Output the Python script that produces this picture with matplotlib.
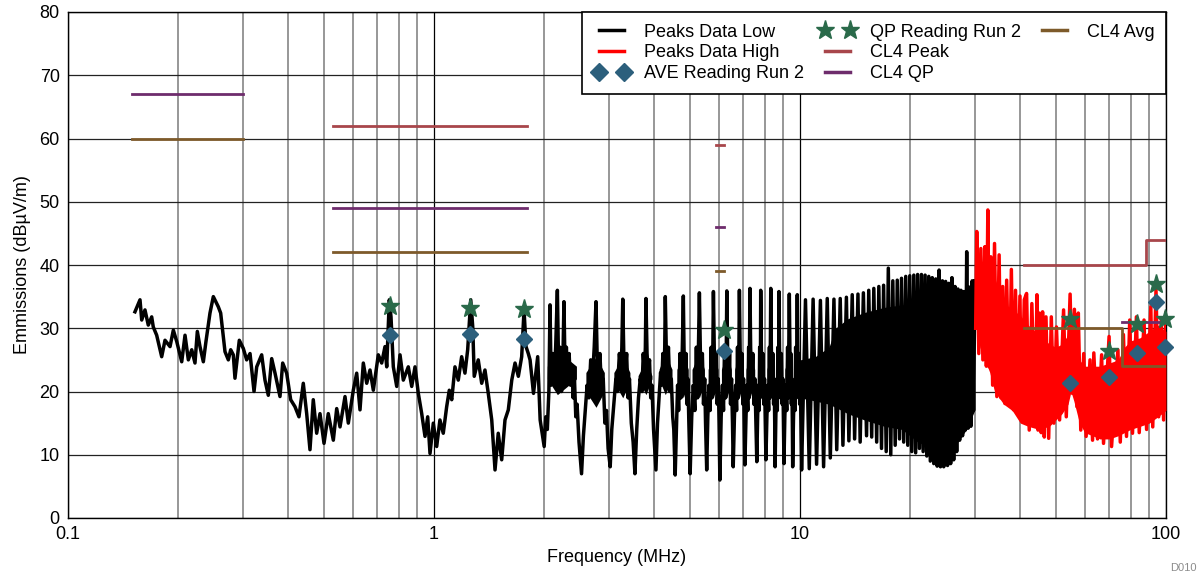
import numpy as np
import matplotlib
matplotlib.use("Agg")
import matplotlib.pyplot as plt
from matplotlib.lines import Line2D

plt.rcParams['font.family'] = ['Liberation Sans', 'DejaVu Sans']

# ---- Peaks data low (0.15 - 2 MHz) ----
low_f = [0.1524, 0.1573, 0.1590, 0.1623, 0.1657, 0.1693, 0.1710, 0.1747, 0.1803, 0.1841,
         0.1900, 0.1940, 0.1982, 0.2045, 0.2088, 0.2132, 0.2178, 0.2223, 0.2256, 0.2294,
         0.2343, 0.2382, 0.2443, 0.2495, 0.2574, 0.2613, 0.2685, 0.2742, 0.2783, 0.2829,
         0.2859, 0.2938, 0.3013, 0.3077, 0.3143, 0.3223, 0.3278, 0.3382, 0.3453, 0.3526,
         0.3602, 0.3678, 0.3795, 0.3860, 0.3958, 0.4059, 0.4170, 0.4276, 0.4394, 0.4489,
         0.4583, 0.4679, 0.4780, 0.4881, 0.5006, 0.5142, 0.5308, 0.5422, 0.5536,
         0.5713, 0.5833, 0.6019, 0.6149, 0.6278, 0.6410, 0.6549, 0.6686, 0.6827, 0.7044,
         0.7196, 0.7347, 0.7427, 0.7549, 0.7630, 0.7742, 0.7910, 0.8075, 0.8244, 0.8507,
         0.8692, 0.8874, 0.9061, 0.9256, 0.9450, 0.9611, 0.9752, 0.9956, 1.017, 1.038,
         1.060, 1.083, 1.101, 1.118, 1.141, 1.165, 1.190, 1.215, 1.236, 1.260,
         1.276, 1.288, 1.321, 1.350, 1.378, 1.407, 1.438, 1.468, 1.498, 1.531,
         1.563, 1.596, 1.631, 1.665, 1.700, 1.736, 1.762, 1.784, 1.810, 1.830,
         1.870, 1.920, 1.950]
low_db = [32.6, 34.5, 31.3, 32.9, 30.5, 31.8, 30.2, 28.9, 25.5, 28.1,
          27.1, 29.7, 27.9, 24.7, 28.9, 25.0, 26.6, 24.5, 29.5, 27.1,
          24.7, 27.9, 32.4, 35.0, 33.4, 32.4, 26.3, 25.0, 26.6, 25.8,
          22.1, 28.1, 26.8, 25.0, 26.0, 20.0, 23.9, 25.8, 21.8, 19.4,
          25.2, 22.9, 19.2, 24.5, 22.9, 18.7, 17.6, 16.0, 21.3, 16.5,
          10.8, 18.7, 13.4, 16.5, 11.8, 16.5, 12.3, 17.3, 14.4,
          19.2, 15.0, 20.2, 22.9, 17.1, 24.5, 21.3, 23.4, 20.2, 25.8,
          24.5, 27.1, 23.9, 34.5, 31.8, 23.9, 20.8, 25.8, 21.8, 23.9,
          20.8, 23.9, 19.7, 16.5, 12.9, 16.0, 10.2, 15.0, 11.3, 15.5,
          13.4, 17.6, 20.2, 18.7, 23.9, 21.8, 25.5, 22.9, 26.6, 34.5,
          30.2, 22.4, 25.0, 21.3, 23.4, 19.7, 15.5, 7.6, 13.4, 9.2,
          15.5, 17.1, 21.8, 24.5, 22.4, 25.5, 32.9, 27.1, 26.0, 25.0,
          19.7, 25.5, 15.5]

# harmonic lobes 2 - 10.1 MHz (trough, noisy body, spike, body ...)
lobe_f = [2.00, 2.02, 2.04, 2.06, 2.075, 2.09, 2.11, 2.13, 2.15, 2.173, 2.19, 2.21, 2.23, 2.25,
          2.265, 2.28, 2.30, 2.32, 2.34, 2.36, 2.38, 2.40, 2.42, 2.44, 2.46, 2.49,
          2.53, 2.56, 2.59, 2.62, 2.65, 2.68, 2.71, 2.74, 2.771, 2.79, 2.81, 2.84, 2.87, 2.90,
          2.93, 2.96, 2.99,
          3.03, 3.06, 3.10, 3.14, 3.17, 3.21, 3.24, 3.26, 3.279, 3.30, 3.33, 3.36, 3.39, 3.42,
          3.46, 3.50,
          3.54, 3.58, 3.62, 3.66, 3.70, 3.73, 3.76, 3.78, 3.794, 3.82, 3.85, 3.88, 3.91, 3.94,
          3.98,
          4.04, 4.08, 4.12, 4.16, 4.19, 4.22, 4.25, 4.27, 4.285, 4.31, 4.34, 4.37, 4.41, 4.45,
          4.49, 4.52,
          4.56, 4.60, 4.63, 4.66, 4.70, 4.73, 4.77, 4.80, 4.82, 4.85, 4.88, 4.91, 4.94, 4.97,
          5.01, 5.06, 5.11, 5.16, 5.21, 5.25, 5.28, 5.31, 5.34, 5.37, 5.41, 5.45, 5.49, 5.52,
          5.56, 5.60, 5.64, 5.68, 5.72, 5.75, 5.78, 5.80, 5.83, 5.86, 5.90, 5.94, 5.98, 6.01,
          6.04, 6.09, 6.14, 6.18, 6.22, 6.26, 6.29, 6.31, 6.34, 6.38, 6.42, 6.46, 6.50, 6.54,
          6.57, 6.62, 6.67, 6.71, 6.75, 6.78, 6.81, 6.83, 6.86, 6.90, 6.94, 6.98, 7.01, 7.04,
          7.07, 7.12, 7.16, 7.20, 7.24, 7.26, 7.28, 7.30, 7.33, 7.38, 7.43, 7.48, 7.53, 7.58,
          7.62, 7.66, 7.70, 7.73, 7.76, 7.78, 7.80, 7.81, 7.84, 7.88, 7.92, 7.96, 8.00, 8.04,
          8.07, 8.12, 8.17, 8.21, 8.25, 8.28, 8.30, 8.32, 8.35, 8.39, 8.43, 8.47, 8.50, 8.53,
          8.55, 8.59, 8.63, 8.67, 8.70, 8.73, 8.75, 8.76, 8.79, 8.84, 8.89, 8.94, 8.98, 9.01,
          9.04, 9.09, 9.15, 9.20, 9.25, 9.29, 9.32, 9.35, 9.38, 9.41, 9.44, 9.47, 9.50, 9.53,
          9.55, 9.60, 9.65, 9.69, 9.73, 9.77, 9.80, 9.83, 9.86, 9.90, 9.94, 9.98, 10.02, 10.06,
          10.10]
lobe_db = [11.3, 16, 14, 20, 33.7, 21, 26, 22, 27, 36.0, 24, 27, 20, 25,
           34.2, 24, 27, 22, 26, 21, 24, 19, 22, 16, 18, 12,
           7.0, 13, 17, 21, 19, 25, 22, 27, 34.2, 26, 23, 26, 20, 22,
           15, 17, 11,
           8.1, 14, 18, 22, 20, 26, 23, 27, 34.6, 26, 23, 26, 19, 22,
           15, 12,
           7.0, 14, 19, 22, 20, 26, 23, 27, 34.7, 26, 23, 25, 19, 21,
           14,
           7.6, 15, 19, 23, 21, 26, 23, 27, 35.0, 27, 23, 27, 20, 22,
           16, 14,
           6.8, 15, 21, 17, 26, 19, 27, 35.1, 27, 20, 26, 18, 22, 15,
           7.0, 16, 21, 17, 27, 19, 27, 35.6, 27, 20, 26, 18, 22, 15,
           7.6, 16, 21, 17, 27, 19, 27, 35.8, 27, 20, 26, 18, 22, 15,
           6.0, 16, 21, 17, 27, 19, 27, 35.9, 27, 20, 26, 18, 22, 15,
           8.1, 16, 21, 17, 27, 19, 27, 36.0, 27, 20, 26, 18, 22, 15,
           8.4, 16, 21, 17, 27, 19, 27, 36.3, 27, 20, 26, 18, 22, 15,
           8.9, 16, 21, 17, 27, 19, 27, 36.0, 27, 20, 26, 18, 22, 15,
           9.2, 16, 21, 17, 27, 19, 27, 36.3, 27, 20, 26, 18, 22, 15,
           8.1, 16, 21, 17, 27, 19, 27, 35.8, 27, 20, 26, 18, 22, 15,
           8.6, 16, 21, 17, 27, 19, 27, 35.4, 27, 20, 26, 18, 22, 15,
           8.1, 16, 21, 17, 27, 19, 27, 35.3, 27, 20, 26, 18, 22, 15,
           7.6]
# solid noise body of each lobe: start, centre, end, and its range at the centre
lobe_body_f0 = [2.04, 2.60, 3.10, 3.61, 4.12, 4.61, 5.07, 5.61, 6.10, 6.63, 7.12, 7.67, 8.12, 8.60, 9.09, 9.60]
lobe_body_fc = [2.173, 2.771, 3.279, 3.794, 4.285, 4.80, 5.31, 5.80, 6.31, 6.83, 7.30, 7.81, 8.32, 8.76, 9.35, 9.83]
lobe_body_f1 = [2.45, 2.92, 3.43, 3.94, 4.47, 4.95, 5.48, 5.97, 6.49, 6.99, 7.52, 7.98, 8.48, 8.96, 9.48, 10.0]
lobe_body_lo = [19.5, 17.5, 19, 19.5, 19.5, 19, 19, 19, 19, 19, 19, 19, 19, 19, 19, 19]
lobe_body_hi = [26.5, 25.5, 25.5, 25, 26, 26, 26, 26, 26, 26, 26, 26, 26, 26, 26, 26]

# dense comb 10 - 30 MHz: spike tops and troughs between them
comb_spike_f = [10.35, 10.86, 11.37, 11.87, 12.38, 12.88, 13.39, 13.89, 14.40, 14.90,
                15.41, 15.91, 16.42, 16.92, 17.43, 17.93, 18.44, 18.94, 19.45, 19.95,
                20.46, 20.96, 21.47, 21.97, 22.48, 22.98, 23.49, 23.99, 24.50, 25.00,
                25.51, 26.01, 26.52, 27.02, 27.53, 28.03, 28.54, 29.04, 29.55, 30.05]
comb_spike_db = [34.5, 34.6, 34.4, 34.7, 34.6, 34.7, 34.9, 35.3, 35.4, 35.6,
                 36.0, 36.3, 36.6, 36.8, 39.5, 37.5, 37.6, 37.9, 38.2, 38.3,
                 38.4, 38.5, 38.5, 38.4, 38.2, 38.0, 37.8, 39.2, 37.5, 37.4,
                 37.1, 38.0, 36.6, 36.2, 36.0, 35.8, 42.1, 36.5, 37.5, 37.5]
comb_trough_f = [10.6, 11.1, 11.6, 12.1, 12.6, 13.1, 13.6, 14.1, 14.6, 15.2,
                 15.7, 16.2, 16.7, 17.2, 17.7, 18.2, 18.7, 19.2, 19.7, 20.2,
                 20.7, 21.2, 21.7, 22.2, 22.7, 23.2, 23.7, 24.2, 24.7, 25.3,
                 25.8, 26.3, 26.8, 27.3, 27.8, 28.3, 28.8, 29.3, 29.8]
comb_trough_db = [7.8, 8.5, 8.1, 9.5, 10.8, 11.5, 12.2, 12.5, 12.0, 13.0,
                  12.8, 12.0, 11.0, 10.5, 10.0, 11.5, 12.5, 12.0, 11.5, 10.5,
                  10.3, 11.0, 10.5, 9.8, 9.0, 8.6, 8.2, 8.1, 8.1, 8.3,
                  8.6, 9.2, 10.5, 12.3, 13.0, 13.9, 14.2, 14.5, 17.0]
# solid core of the comb
comb_band_f = [10.0, 11.0, 12.0, 12.5, 13.5, 15.0, 17.0, 19.0, 21.0, 23.0, 25.0, 27.0, 28.5, 30.0]
comb_band_hi = [25, 25.5, 27, 30, 31.5, 32.5, 33.3, 33.7, 33.5, 32.5, 31.5, 30.5, 31, 31]
comb_band_lo = [19, 18.5, 18, 17.5, 16.5, 15.5, 14.5, 14, 12, 11, 10.5, 12, 14, 17]

# ---- Peaks data high (30 - 100 MHz) ----
high_f = [30.2, 30.4, 30.8, 31.2, 31.6, 32.0, 32.3, 32.6, 32.9, 33.2, 33.6, 34.0, 34.5, 35.0,
          35.4, 35.8, 36.3, 36.7, 37.3, 37.8, 38.3, 38.8, 39.3, 39.9, 40.3, 41.0, 41.6, 42.3,
          43.0, 43.9, 44.4, 44.7, 45.1, 45.6, 46.0, 46.5, 47.0, 47.8, 48.6, 49.4, 50.2, 51.2,
          52.5, 53.4, 54.7, 55.5, 56.2, 57.1, 57.6, 58.5, 59.6, 60.5, 62.0, 63.0, 63.5, 65.0,
          66.7, 67.5, 69.9, 71.0, 73.9, 75.0, 76.5, 78.0, 79.6, 81.0, 83.0, 84.5, 87.1, 88.5,
          90.9, 92.0, 93.9, 95.5, 97.1, 98.5, 100.0]
high_db = [30.0, 45.3, 26.0, 42.6, 25.0, 42.9, 24.0, 48.7, 23.9, 41.3, 21.0, 43.4, 19.2, 41.6,
           19.0, 36.6, 18.1, 37.6, 18.0, 39.3, 17.1, 36.0, 16.5, 35.1, 15.5, 34.5, 35.5, 13.9,
           33.9, 14.5, 35.3, 13.9, 32.4, 13.5, 32.6, 12.8, 31.8, 12.6, 31.8, 15.0, 30.2, 15.5,
           32.9, 16.0, 35.4, 19.7, 33.0, 17.6, 32.4, 13.9, 26.0, 12.9, 25.0, 12.3, 26.1, 12.5,
           25.8, 11.8, 28.7, 11.3, 26.6, 12.0, 29.0, 12.9, 31.3, 13.4, 31.8, 13.5, 31.3, 14.0,
           33.4, 14.4, 36.0, 16.0, 31.3, 15.5, 32.4]
high_band_f = [30.3, 31, 32, 33, 34, 35, 36, 38, 40, 42, 45, 48, 50, 52, 54, 55, 56, 58,
               60, 63, 66, 70, 74, 77, 80, 85, 90, 95, 100]
high_band_hi = [44, 41, 40, 39, 38, 36, 34, 33, 32, 30.5, 29, 27.5, 27, 27.5, 29, 30, 28, 25,
                24, 24, 24, 24.5, 25, 27, 28, 28.5, 29.5, 30.5, 29.5]
high_band_lo = [31, 27, 25, 23, 20, 19, 18, 17, 15, 14.5, 14, 14.5, 15.5, 16.5, 18, 20, 18.5, 15,
                13.5, 13, 12.5, 12.5, 13, 13.5, 14, 14.5, 15, 16, 17]

# ---- measured readings ----
read_f = [0.758, 1.254, 1.76, 6.2, 54.7, 69.8, 83.3, 94.0, 99.5]
qp_db = [33.5, 33.2, 33.0, 29.7, 31.4, 26.4, 30.7, 37.0, 31.4]
ave_db = [29.0, 29.1, 28.3, 26.4, 21.3, 22.3, 26.1, 34.2, 27.0]

# ---- CISPR 25 class 4 limits ----
cl4_peak_f = [[0.53, 1.8], [5.9, 6.2], [41, 88, 88, 108]]
cl4_peak_db = [[62, 62], [59, 59], [40, 40, 44, 44]]
cl4_qp_f = [[0.15, 0.3], [0.53, 1.8], [5.9, 6.2], [76, 108]]
cl4_qp_db = [[67, 67], [49, 49], [46, 46], [31, 31]]
cl4_avg_f = [[0.15, 0.3], [0.53, 1.8], [5.9, 6.2], [41, 76, 76, 108]]
cl4_avg_db = [[60, 60], [42, 42], [39, 39], [30, 30, 24, 24]]

c_peak = '#a8464b'
c_qp = '#6e2c6c'
c_avg = '#7d5a2a'
c_star = '#2a6a4a'
c_diam = '#2c5f7c'
lw_trace = 2.5
taper = 2.5  # how much a lobe body narrows toward its edges (dB)

fig = plt.figure(figsize=(12.04, 5.77), dpi=100)
ax = fig.add_axes([68 / 1204, 1 - 518 / 577, 1098 / 1204, 506 / 577])

# black trace
comb_f = np.empty(len(comb_spike_f) + len(comb_trough_f))
comb_db = np.empty_like(comb_f)
comb_f[0::2], comb_f[1::2] = comb_spike_f, comb_trough_f
comb_db[0::2], comb_db[1::2] = comb_spike_db, comb_trough_db
ax.plot(np.r_[low_f, lobe_f, comb_f], np.r_[low_db, lobe_db, comb_db],
        color='black', lw=lw_trace, zorder=3)
for f0, fc, f1, lo, hi in zip(lobe_body_f0, lobe_body_fc, lobe_body_f1, lobe_body_lo, lobe_body_hi):
    ax.fill_between([f0, fc, f1], [lo + taper, lo, lo + taper], [hi - taper, hi, hi - taper],
                    color='black', lw=0, zorder=3)
ax.fill_between(comb_band_f, comb_band_lo, comb_band_hi, color='black', lw=0, zorder=3)

# red trace
ax.plot(high_f, high_db, color='red', lw=lw_trace, zorder=3)
ax.fill_between(high_band_f, high_band_lo, high_band_hi, color='red', lw=0, zorder=3)

# limits
for fs, ds in zip(cl4_peak_f, cl4_peak_db):
    ax.plot(fs, ds, color=c_peak, lw=2, zorder=4)
for fs, ds in zip(cl4_qp_f, cl4_qp_db):
    ax.plot(fs, ds, color=c_qp, lw=2, zorder=4)
for fs, ds in zip(cl4_avg_f, cl4_avg_db):
    ax.plot(fs, ds, color=c_avg, lw=2, zorder=4)

ax.plot(read_f, qp_db, ls='none', marker='*', ms=14, color=c_star, zorder=6, clip_on=False)
ax.plot(read_f, ave_db, ls='none', marker='D', ms=8, color=c_diam, zorder=6, clip_on=False)

ax.set_xscale('log')
ax.set_xlim(0.1, 100)
ax.set_ylim(0, 80)
ax.set_yticks(range(0, 81, 10))
ax.set_xticks([0.1, 1, 10, 100], ['0.1', '1', '10', '100'])
ax.xaxis.set_minor_formatter(matplotlib.ticker.NullFormatter())
ax.tick_params(which='both', length=0, labelsize=13, pad=6)
ax.grid(True, which='major', axis='x', color='black', lw=0.9)
ax.grid(True, which='minor', axis='x', color='#7a7a7a', lw=1.1)
ax.grid(True, which='major', axis='y', color='#222222', lw=0.9)
ax.set_axisbelow(True)
for s in ax.spines.values():
    s.set_linewidth(1.0)

ax.set_xlabel('Frequency (MHz)', fontsize=13, labelpad=4)
ax.set_ylabel('Emmissions (dBµV/m)', fontsize=13, labelpad=6)

handles = [
    Line2D([], [], color='black', lw=2.5),
    Line2D([], [], color='red', lw=2.5),
    Line2D([], [], ls='none', marker='D', ms=9, color=c_diam),
    Line2D([], [], ls='none', marker='*', ms=14, color=c_star),
    Line2D([], [], color=c_peak, lw=2.5),
    Line2D([], [], color=c_qp, lw=2.5),
    Line2D([], [], color=c_avg, lw=2.5),
    Line2D([], [], ls='none'),
]
labels = ['Peaks Data Low', 'Peaks Data High', 'AVE Reading Run 2', 'QP Reading Run 2',
          'CL4 Peak', 'CL4 QP', 'CL4 Avg', '']
leg = ax.legend(handles, labels, loc='upper right', ncol=3, numpoints=2, fontsize=13,
                frameon=True, fancybox=False, framealpha=1, edgecolor='black',
                borderaxespad=0, labelspacing=0.2, columnspacing=0.85, handlelength=2.0,
                handletextpad=0.8, borderpad=0.65)
leg.get_frame().set_linewidth(1.2)
leg.set_zorder(10)

fig.text(1183 / 1204, 1 - 568 / 577, 'D010', fontsize=8, color='#8c8c8c', ha='center', va='center')

fig.savefig('out.png', dpi=100)
